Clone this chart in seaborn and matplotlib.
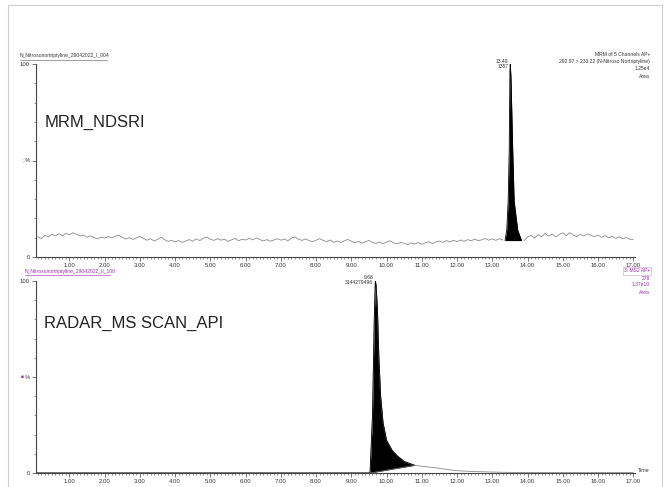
import numpy as np
import matplotlib.pyplot as plt
import seaborn as sns
from matplotlib.lines import Line2D
from matplotlib.patches import Rectangle
from matplotlib.ticker import FixedLocator, MultipleLocator

# MRM 292.97 > 233.22: ruido de linea base, una lectura cada 0.1 min desde 0.1 min
mrm_start, mrm_step = 0.1, 0.1
mrm_noise = [
    10.5, 9.6, 11.2, 10.4, 11.8, 11.0, 12.1, 10.9, 12.3, 11.5,
    12.6, 11.8, 10.9, 11.4, 10.2, 11.0, 10.1, 9.4, 10.3, 9.8,
    10.6, 9.9, 10.8, 11.3, 10.2, 9.3, 10.0, 9.1, 9.8, 10.7,
    9.6, 8.7, 9.5, 8.3, 9.1, 10.2, 9.0, 8.1, 8.6, 7.9,
    8.5, 7.6, 8.3, 9.0, 8.2, 9.4, 8.5, 9.7, 10.3, 9.2,
    8.6, 9.5, 8.7, 9.3, 8.1, 8.9, 9.6, 8.4, 9.2, 8.8,
    9.7, 8.9, 9.9, 9.1, 8.3, 9.0, 8.2, 8.8, 9.5, 8.7,
    9.3, 8.4, 9.8, 10.4, 9.2, 8.6, 9.4, 8.5, 7.9, 8.7,
    9.5, 8.6, 8.0, 8.8, 7.6, 8.3, 7.5, 8.4, 9.1, 8.2,
    7.4, 8.1, 7.2, 7.9, 8.6, 7.5, 7.0, 7.8, 6.9, 7.7,
    8.4, 7.3, 6.8, 7.6, 7.1, 6.4, 7.3, 6.7, 7.5, 6.6,
    7.4, 7.9, 7.0, 7.8, 8.3, 7.6, 8.5, 7.8, 8.6, 8.0,
    8.8, 8.1, 9.0, 8.4, 9.3, 8.5, 8.9, 9.6, 8.7, 9.4,
    8.6, 9.5, 8.8, 8.5, 8.5, 8.5, 8.5, 8.5, 8.5, 10.4,
    11.2, 9.8, 11.6, 10.5, 12.2, 10.8, 11.9, 10.4, 11.7, 12.5,
    11.1, 12.6, 11.3, 10.6, 11.8, 10.9, 12.0, 11.2, 10.5, 11.4,
    10.2, 11.1, 10.0, 10.8, 9.6, 10.4, 9.5, 10.1, 9.2, 9.0,
]
mrm_peak_time = [13.36, 13.41, 13.45, 13.48, 13.50, 13.51, 13.53, 13.58, 13.62, 13.72, 13.83]
mrm_peak_int = [8.5, 14, 29, 55, 96, 100, 93, 55, 29, 14, 8.5]
mrm_peak_rt, mrm_peak_area = "13.49", "1357"

# MS2 scan: pico grande con cola
scan_time = [0.05, 9.53, 9.60, 9.65, 9.68, 9.70, 9.74, 9.78, 9.83, 9.90, 10.0,
             10.15, 10.3, 10.5, 10.8, 11.1, 11.4, 11.7, 12.0, 12.4, 12.8,
             13.2, 13.6, 14.5, 15.5, 17.0]
scan_int = [0, 0, 30, 80, 100, 98, 85, 60, 40, 26, 17,
            12, 9, 6, 4, 3.3, 2.7, 1.9, 1.2, 0.8, 0.6,
            0.4, 0.3, 0.2, 0.2, 0.2]
scan_base_time = [9.53, 10.8]
scan_base_int = [0, 4]
scan_peak_rt, scan_peak_area = "9.68", "3144279496"

time_ticks = list(range(1, 18))
time_labels = [f"{t:.2f}" for t in time_ticks]

PURPLE = "#a02cb0"
W, H = 670, 487


def fx(px):
    return px / W


def fy(py):
    return 1 - py / H


def style_axis(ax):
    ax.set_xlim(0.05, 17.05)
    ax.set_ylim(0, 100)
    sns.despine(ax=ax)
    for s in ["left", "bottom"]:
        ax.spines[s].set_color("#444444")
        ax.spines[s].set_linewidth(0.8)
    ax.xaxis.set_major_locator(FixedLocator(time_ticks))
    ax.set_xticklabels(time_labels)
    ax.xaxis.set_minor_locator(MultipleLocator(0.1))
    ax.yaxis.set_major_locator(FixedLocator([0, 50, 100]))
    ax.set_yticklabels(["0", "%", "100"])
    ax.yaxis.set_minor_locator(MultipleLocator(10))
    ax.tick_params(which="major", length=3, width=0.5, labelsize=4.3, pad=1.5,
                   color="#444444", labelcolor="#333333")
    ax.tick_params(which="minor", length=1.5, width=0.4, color="#444444")
    ax.set_xlabel("")
    ax.set_ylabel("")


def main():
    sns.set_style("ticks")
    plt.rcParams["font.family"] = ["Liberation Sans", "DejaVu Sans"]

    fig = plt.figure(figsize=(6.7, 4.87), dpi=100)
    fig.add_artist(Rectangle((fx(8), fy(490)), fx(654), 485 / H, transform=fig.transFigure,
                             fill=False, edgecolor="#d0d0d0", linewidth=0.8))

    ax1 = fig.add_axes([fx(36), fy(257), fx(599), 193 / H])
    ax2 = fig.add_axes([fx(36), fy(473), fx(599), 192 / H])

    # --- panel superior: MRM ---
    noise_t = mrm_start + mrm_step * np.arange(len(mrm_noise))
    noise_y = np.array(mrm_noise)
    left = noise_t < mrm_peak_time[0]
    right = noise_t > mrm_peak_time[-1]
    sns.lineplot(x=noise_t[left], y=noise_y[left], ax=ax1, color="#8a8a8a", linewidth=0.6)
    sns.lineplot(x=noise_t[right], y=noise_y[right], ax=ax1, color="#8a8a8a", linewidth=0.6)
    sns.lineplot(x=mrm_peak_time, y=mrm_peak_int, ax=ax1, color="black", linewidth=0.6)
    ax1.fill_between(mrm_peak_time, mrm_peak_int[0], mrm_peak_int, color="black", linewidth=0)
    ax1.text(13.45, 100, f"{mrm_peak_rt}\n{mrm_peak_area}", fontsize=3.6, ha="right",
             va="center", color="#333333", linespacing=1.1, clip_on=False)
    style_axis(ax1)

    # --- panel inferior: MS2 scan ---
    sns.lineplot(x=scan_time, y=scan_int, ax=ax2, color="#8a8a8a", linewidth=0.6)
    peak_mask = np.array(scan_time) <= scan_base_time[1]
    pt = np.array(scan_time)[peak_mask]
    pi = np.array(scan_int)[peak_mask]
    sns.lineplot(x=pt, y=pi, ax=ax2, color="black", linewidth=0.6)
    base = np.interp(pt, scan_base_time, scan_base_int)
    ax2.fill_between(pt, base, pi, where=pt >= scan_base_time[0], color="black", linewidth=0)
    ax2.plot(scan_base_time, scan_base_int, color="#777777", linewidth=0.5)
    ax2.text(9.62, 100.5, f"{scan_peak_rt}\n{scan_peak_area}", fontsize=3.6, ha="right",
             va="center", color="#333333", linespacing=1.1, clip_on=False)
    style_axis(ax2)

    # --- textos de cabecera ---
    fig.text(fx(20), fy(56), "N_Nitrosonortriptyline_29042022_I_004", fontsize=3.6,
             color="#333333", va="center")
    fig.add_artist(Line2D([fx(20), fx(107)], [fy(59.5), fy(59.5)], color="#555555", linewidth=0.4))
    fig.text(fx(25), fy(271.5), "N_Nitrosonortriptyline_29042022_II_100", fontsize=3.6,
             color=PURPLE, va="center")
    fig.add_artist(Line2D([fx(25), fx(110)], [fy(275), fy(275)], color=PURPLE, linewidth=0.4))

    top_right = ["MRM of 5 Channels AP+", "292.97 > 233.22 (N-Nitroso Nortriptyline)", "1.25e4", "Area"]
    for i, s in enumerate(top_right):
        fig.text(fx(650), fy(55 + 7 * i), s, fontsize=3.6, ha="right", va="center", color="#333333")
    bot_right = ["3: MS2 AP+", "278", "1.37e10", "Area"]
    for i, s in enumerate(bot_right):
        fig.text(fx(650), fy(271 + 7 * i), s, fontsize=3.6, ha="right", va="center", color=PURPLE,
                 bbox=dict(boxstyle="square,pad=0.25", fc="white", ec="#c9a0d0", lw=0.4) if i == 0 else None)

    fig.text(fx(638), fy(471), "Time", fontsize=3.8, va="center", color="#333333")
    fig.text(fx(22.7), fy(161.7), "○", fontsize=4, ha="center", va="center", color="#bbbbbb")
    fig.text(fx(22.7), fy(376.7), "■", fontsize=3.5, ha="center", va="center", color=PURPLE)

    fig.text(fx(45), fy(122), "MRM_NDSRI", fontsize=12, va="center", color="#222222")
    fig.text(fx(44), fy(323), "RADAR_MS SCAN_API", fontsize=12, va="center", color="#222222")

    fig.savefig("out.png", dpi=100)


if __name__ == "__main__":
    main()
